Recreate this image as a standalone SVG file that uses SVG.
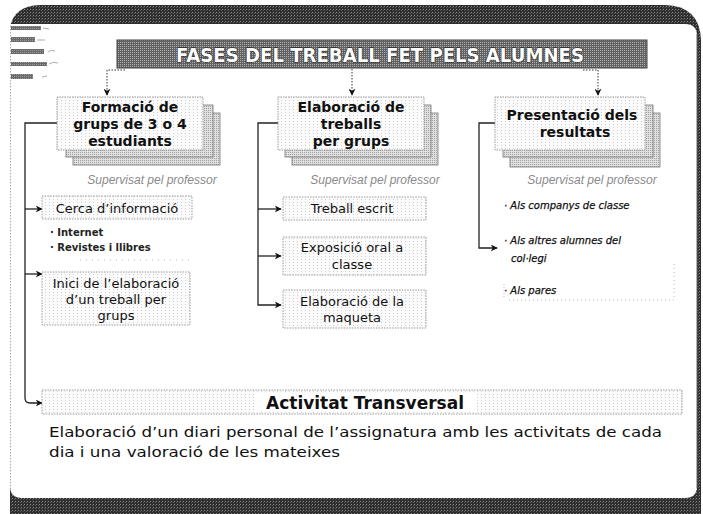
<svg xmlns="http://www.w3.org/2000/svg" width="703" height="514" viewBox="0 0 703 514">
<defs>
<pattern id="dark" width="3" height="3" patternUnits="userSpaceOnUse"><rect width="3" height="3" fill="#2e2e2e"/><rect width="1" height="1" fill="#8a8a8a"/><rect x="2" y="1" width="1" height="1" fill="#5a5a5a"/></pattern>
<pattern id="banner" width="2" height="2" patternUnits="userSpaceOnUse"><rect width="2" height="2" fill="#626262"/><rect width="1" height="1" fill="#b0b0b0"/></pattern>
<pattern id="shade" width="2" height="2" patternUnits="userSpaceOnUse"><rect width="2" height="2" fill="#e0e0e0"/><rect width="1" height="1" fill="#a0a0a0"/></pattern>
<pattern id="speck" width="4" height="3" patternUnits="userSpaceOnUse"><rect width="4" height="3" fill="#fbfbfb"/><rect x="1" y="1" width="1" height="1" fill="#cfcfcf"/></pattern>
<pattern id="deco" width="2" height="2" patternUnits="userSpaceOnUse"><rect width="2" height="2" fill="#6a6a6a"/><rect width="1" height="1" fill="#9a9a9a"/></pattern>
<marker id="arr" viewBox="0 0 10 10" refX="9" refY="5" markerWidth="7" markerHeight="7" markerUnits="userSpaceOnUse" orient="auto"><path d="M0,0 L10,5 L0,10 L3,5 Z" fill="#111"/></marker>
</defs>
<style>
.front{fill:url(#speck);stroke:#9a9a9a;stroke-width:1;stroke-dasharray:1.5 1}
.sh{fill:url(#shade);stroke:#777;stroke-width:0.8}
.dot{fill:url(#speck);stroke:#9a9a9a;stroke-width:1;stroke-dasharray:1.5 1.2}
.bt{font-family:"DejaVu Sans",sans-serif;font-weight:bold;font-size:14px;fill:#111;text-anchor:middle}
.st{font-family:"DejaVu Sans",sans-serif;font-size:13px;fill:#111;text-anchor:middle}
.sup{font-family:"Liberation Sans",Arial,sans-serif;font-style:italic;font-size:12px;fill:#8a8a8a;text-anchor:middle}
.sm{font-family:"DejaVu Sans",sans-serif;font-weight:bold;font-size:10px;fill:#222}
.smi{font-family:"DejaVu Sans",sans-serif;font-style:italic;font-size:10px;fill:#111;stroke:#111;stroke-width:0.25}
.con{fill:none;stroke:#222;stroke-width:1.3}
.cond{fill:none;stroke:#333;stroke-width:1;stroke-dasharray:1.5 1.5}
</style>

<!-- frame -->
<g id="frame">
<path d="M10,28 Q13,6 40,5 L665,5 Q700,6 701,40 L701,514 L10,514 Z" fill="url(#dark)"/>
<path d="M10,24 L685,24 Q697,24 697,36 L697,486 Q697,498 685,498 L22,498 Q10,498 10,486 Z" fill="#ffffff"/>
<line x1="10.5" y1="26" x2="10.5" y2="490" stroke="#aaa" stroke-dasharray="1.5 1.5"/>
<line x1="697" y1="34" x2="697" y2="488" stroke="#666" stroke-width="1"/>
</g>

<g id="deco">
<rect x="11" y="26" width="30" height="4" fill="url(#deco)"/><path d="M43,28 l6,1" stroke="#aaa" stroke-width="1"/>
<rect x="11" y="37" width="24" height="5" fill="url(#deco)"/><path d="M37,40 l8,0" stroke="#aaa" stroke-width="1"/>
<rect x="11" y="49" width="33" height="5" fill="url(#deco)"/><path d="M48,52 q3,-3 7,-1" stroke="#999" stroke-width="0.8" fill="none"/>
<rect x="11" y="62" width="36" height="4" fill="url(#deco)"/><path d="M49,64 q4,-3 9,-1" stroke="#999" stroke-width="0.8" fill="none"/>
<rect x="11" y="74" width="22" height="5" fill="url(#deco)"/><path d="M42,77 l5,-1" stroke="#999" stroke-width="0.8"/>
</g>

<g id="title">
<rect x="117" y="40" width="530" height="28" fill="url(#banner)" stroke="#444" stroke-width="1"/>
<text x="380" y="62" font-family="DejaVu Sans, sans-serif" font-weight="bold" font-size="19" fill="#fff" stroke="#111" stroke-width="1.1" paint-order="stroke" text-anchor="middle" textLength="408" lengthAdjust="spacingAndGlyphs">FASES DEL TREBALL FET PELS ALUMNES</text>
</g>

<g id="connectors">
<path class="cond" d="M125,70 L107,70 L107,95" marker-end="url(#arr)"/>
<path class="cond" d="M352,69 L352,95" marker-end="url(#arr)"/>
<path class="cond" d="M583,70 L598,70 L598,95" marker-end="url(#arr)"/>
<path class="con" d="M57,123 L25,123 L25,398 Q25,403 30,403 L42,403" marker-end="url(#arr)"/>
<path class="con" d="M25,209 L42,209" marker-end="url(#arr)"/>
<path class="con" d="M25,274 L42,274" marker-end="url(#arr)"/>
<path class="con" d="M278,123 L258,123 L258,305 L281,305" marker-end="url(#arr)"/>
<path class="con" d="M258,209 L281,209" marker-end="url(#arr)"/>
<path class="con" d="M258,256 L281,256" marker-end="url(#arr)"/>
<path class="con" d="M495,123 L479,123 L479,248 L497,248" marker-end="url(#arr)"/>
</g>

<g id="box1">
<rect class="sh" x="73" y="113" width="147" height="52"/>
<rect class="sh" x="66" y="105" width="147" height="52"/>
<rect class="front" x="57" y="97" width="146" height="53"/>
<text class="bt" x="130" y="112">Formació de</text>
<text class="bt" x="130" y="129">grups de 3 o 4</text>
<text class="bt" x="130" y="146">estudiants</text>
</g>
<text class="sup" x="152" y="184">Supervisat pel professor</text>

<g id="box2">
<rect class="sh" x="292" y="113" width="146" height="52"/>
<rect class="sh" x="285" y="105" width="146" height="52"/>
<rect class="front" x="278" y="97" width="146" height="53"/>
<text class="bt" x="351" y="112">Elaboració de</text>
<text class="bt" x="351" y="129">treballs</text>
<text class="bt" x="351" y="146">per grups</text>
</g>
<text class="sup" x="375" y="184">Supervisat pel professor</text>

<g id="box3">
<rect class="sh" x="510" y="113" width="150" height="54"/>
<rect class="sh" x="503" y="105" width="150" height="52"/>
<rect class="front" x="495" y="97" width="150" height="53"/>
<text class="bt" x="572" y="120">Presentació dels</text>
<text class="bt" x="575" y="137">resultats</text>
</g>
<text class="sup" x="592" y="184">Supervisat pel professor</text>

<g id="cerca">
<rect class="dot" x="42" y="196" width="150" height="23"/>
<text class="st" x="117" y="213">Cerca d’informació</text>
</g>
<g id="cerca-items">
<text class="sm" x="50" y="236">· Internet</text>
<text class="sm" x="50" y="251">· Revistes i llibres</text>
<line x1="80" y1="260" x2="190" y2="260" stroke="#bbb" stroke-dasharray="1 5"/>
</g>

<g id="inici">
<rect class="dot" x="42" y="272" width="148" height="53"/>
<text class="st" x="116" y="288">Inici de l’elaboració</text>
<text class="st" x="116" y="304">d’un treball per</text>
<text class="st" x="116" y="320">grups</text>
</g>

<g id="treball">
<rect class="dot" x="283" y="197" width="143" height="23"/>
<text class="st" x="352" y="213">Treball escrit</text>
</g>
<g id="exposicio">
<rect class="dot" x="283" y="237" width="143" height="38"/>
<text class="st" x="352" y="252">Exposició oral a</text>
<text class="st" x="352" y="269">classe</text>
</g>
<g id="maqueta">
<rect class="dot" x="283" y="290" width="143" height="38"/>
<text class="st" x="352" y="306">Elaboració de la</text>
<text class="st" x="352" y="322">maqueta</text>
</g>

<g id="presentacio-items">
<text class="smi" x="504" y="209">· Als companys de classe</text>
<text class="smi" x="504" y="244">· Als altres alumnes del</text>
<text class="smi" x="511" y="262">col·legi</text>
<text class="smi" x="504" y="294">· Als pares</text>
<path d="M674,264 L674,300 L508,300" fill="none" stroke="#bbb" stroke-dasharray="1 3"/>
<line x1="504" y1="284" x2="504" y2="298" stroke="#bbb" stroke-dasharray="1 2"/>
</g>

<g id="activitat">
<rect class="dot" x="42" y="390" width="640" height="24"/>
<rect x="255" y="393" width="222" height="19" fill="#fff"/>
<text x="365" y="409" font-family="DejaVu Sans, sans-serif" font-weight="bold" font-size="17" fill="#111" text-anchor="middle">Activitat Transversal</text>
</g>
<g id="transversal-text" font-family="DejaVu Sans, sans-serif" font-size="14.5" fill="#111">
<text x="49" y="437" textLength="613" lengthAdjust="spacingAndGlyphs">Elaboració d’un diari personal de l’assignatura amb les activitats de cada</text>
<text x="49" y="457" textLength="291" lengthAdjust="spacingAndGlyphs">dia i una valoració de les mateixes</text>
</g>
</svg>
